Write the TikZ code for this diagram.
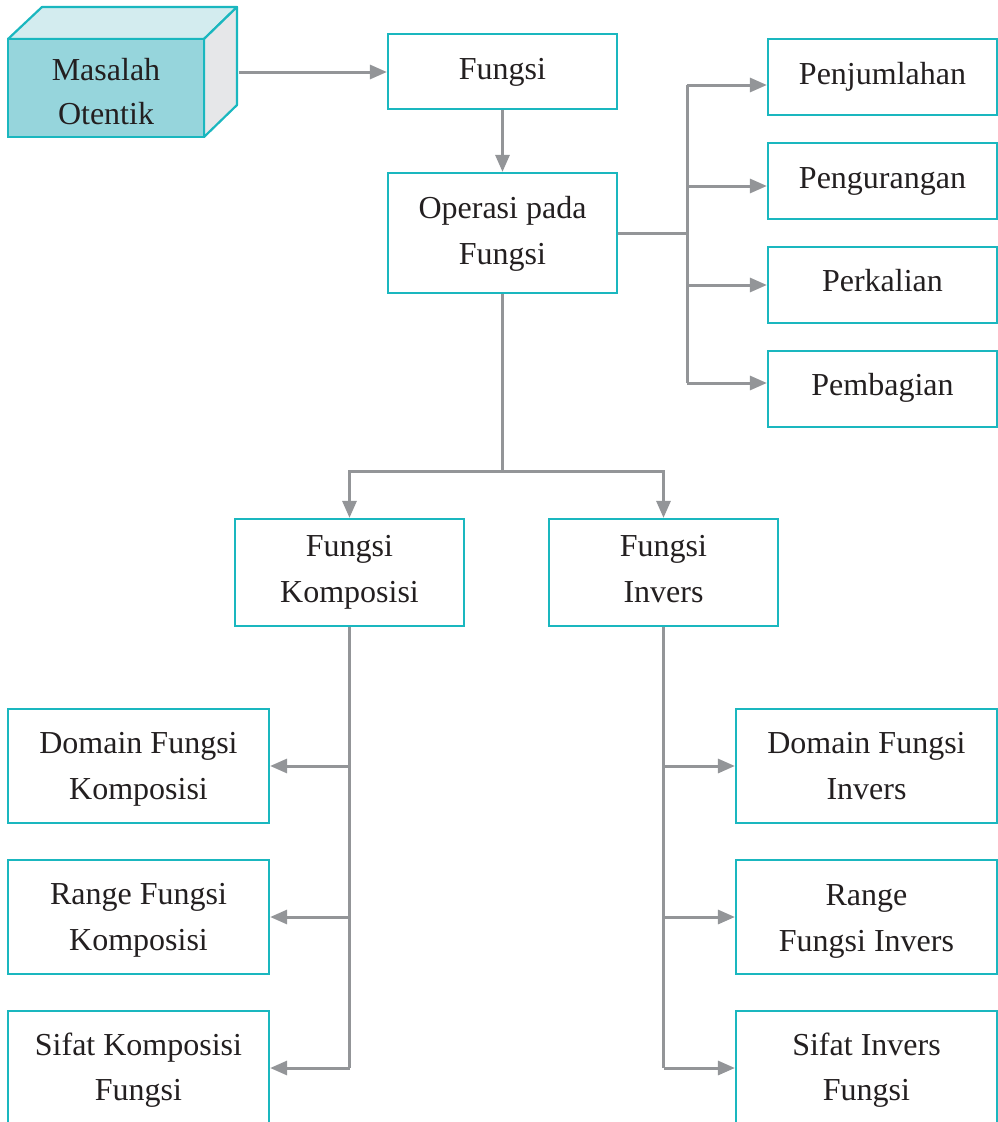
\documentclass[tikz,border=0pt]{standalone}
\usepackage{fontspec}
\setmainfont{Liberation Serif}
\usetikzlibrary{arrows.meta}
\definecolor{teal1}{HTML}{1AB7BF}
\definecolor{frontc}{HTML}{96D5DC}
\definecolor{topc}{HTML}{D3ECEF}
\definecolor{sidec}{HTML}{E6E7E9}
\definecolor{arr}{HTML}{939598}
\definecolor{txtc}{HTML}{231F20}
\begin{document}
\begin{tikzpicture}[x=1pt,y=-1pt,
  box/.style={draw=teal1,line width=2.2pt,fill=white,inner sep=0pt},
  txt/.style={text=txtc,font=\fontsize{32}{46}\selectfont,inner sep=0pt,anchor=base,yshift=-3pt},
  con/.style={draw=arr,line width=3pt},
  arw/.style={con,-{Triangle[length=17pt,width=14pt]}}]
\useasboundingbox (0,0) rectangle (998,1122);
% 3D box
\fill[topc,draw=teal1,line width=2.2pt,line join=round] (8,39) -- (42,7) -- (237,7) -- (204,39) -- cycle;
\fill[sidec,draw=teal1,line width=2.2pt,line join=round] (204,39) -- (237,7) -- (237,105) -- (204,137) -- cycle;
\node[box,fill=frontc,minimum width=196,minimum height=98] (mo) at (106,88) {};
\node[txt] (mo1) at (106,77) {Masalah};
\node[txt] (mo2) at (106,121) {Otentik};
% top boxes
\node[box,minimum width=229,minimum height=75] (fu) at (502.5,71.5) {};
\node[txt] (fu1) at (502.5,76) {Fungsi};
\node[box,minimum width=229,minimum height=120] (op) at (502.5,233) {};
\node[txt] (op1) at (502.5,215) {Operasi pada};
\node[txt] (op2) at (502.5,261) {Fungsi};
% right column
\node[box,minimum width=229,minimum height=76] (p1) at (882.5,77) {};
\node[txt] (p1t) at (882.5,81) {Penjumlahan};
\node[box,minimum width=229,minimum height=76] (p2) at (882.5,181) {};
\node[txt] (p2t) at (882.5,185) {Pengurangan};
\node[box,minimum width=229,minimum height=76] (p3) at (882.5,285) {};
\node[txt] (p3t) at (882.5,288) {Perkalian};
\node[box,minimum width=229,minimum height=76] (p4) at (882.5,389) {};
\node[txt] (p4t) at (882.5,392) {Pembagian};
% middle
\node[box,minimum width=229,minimum height=107] (fk) at (349.5,572.5) {};
\node[txt] (fk1) at (349.5,553) {Fungsi};
\node[txt] (fk2) at (349.5,599) {Komposisi};
\node[box,minimum width=229,minimum height=107] (fi) at (663.5,572.5) {};
\node[txt] (fi1) at (663.5,553) {Fungsi};
\node[txt] (fi2) at (663.5,599) {Invers};
% bottom left
\node[box,minimum width=261,minimum height=114] (l1) at (138.5,766) {};
\node[txt] (l1a) at (138.5,750) {Domain Fungsi};
\node[txt] (l1b) at (138.5,796) {Komposisi};
\node[box,minimum width=261,minimum height=114] (l2) at (138.5,917) {};
\node[txt] (l2a) at (138.5,901) {Range Fungsi};
\node[txt] (l2b) at (138.5,947) {Komposisi};
\node[box,minimum width=261,minimum height=114] (l3) at (138.5,1068) {};
\node[txt] (l3a) at (138.5,1052) {Sifat Komposisi};
\node[txt] (l3b) at (138.5,1097) {Fungsi};
% bottom right
\node[box,minimum width=261,minimum height=114] (r1) at (866.5,766) {};
\node[txt] (r1a) at (866.5,750) {Domain Fungsi};
\node[txt] (r1b) at (866.5,796) {Invers};
\node[box,minimum width=261,minimum height=114] (r2) at (866.5,917) {};
\node[txt] (r2a) at (866.5,902) {Range};
\node[txt] (r2b) at (866.5,948) {Fungsi Invers};
\node[box,minimum width=261,minimum height=114] (r3) at (866.5,1068) {};
\node[txt] (r3a) at (866.5,1052) {Sifat Invers};
\node[txt] (r3b) at (866.5,1097) {Fungsi};
% connectors
\coordinate (mo0) at (239,72);
\draw[arw] (mo0) -- (fu.west |- mo0);
\draw[arw] (fu.south) -- (op.north);
\coordinate (bus) at (687,233);
\coordinate (b1) at (687,85);
\coordinate (b2) at (687,186);
\coordinate (b3) at (687,285);
\coordinate (b4) at (687,383);
\draw[con] (op.east) -- (bus);
\draw[con] (b1) -- (b4);
\draw[arw] (b1) -- (p1.west |- b1);
\draw[arw] (b2) -- (p2.west |- b2);
\draw[arw] (b3) -- (p3.west |- b3);
\draw[arw] (b4) -- (p4.west |- b4);
\coordinate (split) at (502.5,471);
\draw[con] (op.south) -- (split);
\draw[arw] (split) -| (fk.north);
\draw[arw] (split) -| (fi.north);
\coordinate (lb1) at (349.5,766);
\coordinate (lb2) at (349.5,917);
\coordinate (lb3) at (349.5,1068);
\draw[con] (fk.south) -- (lb3);
\draw[arw] (lb1) -- (l1.east |- lb1);
\draw[arw] (lb2) -- (l2.east |- lb2);
\draw[arw] (lb3) -- (l3.east |- lb3);
\coordinate (rb1) at (663.5,766);
\coordinate (rb2) at (663.5,917);
\coordinate (rb3) at (663.5,1068);
\draw[con] (fi.south) -- (rb3);
\draw[arw] (rb1) -- (r1.west |- rb1);
\draw[arw] (rb2) -- (r2.west |- rb2);
\draw[arw] (rb3) -- (r3.west |- rb3);
\end{tikzpicture}
\end{document}
